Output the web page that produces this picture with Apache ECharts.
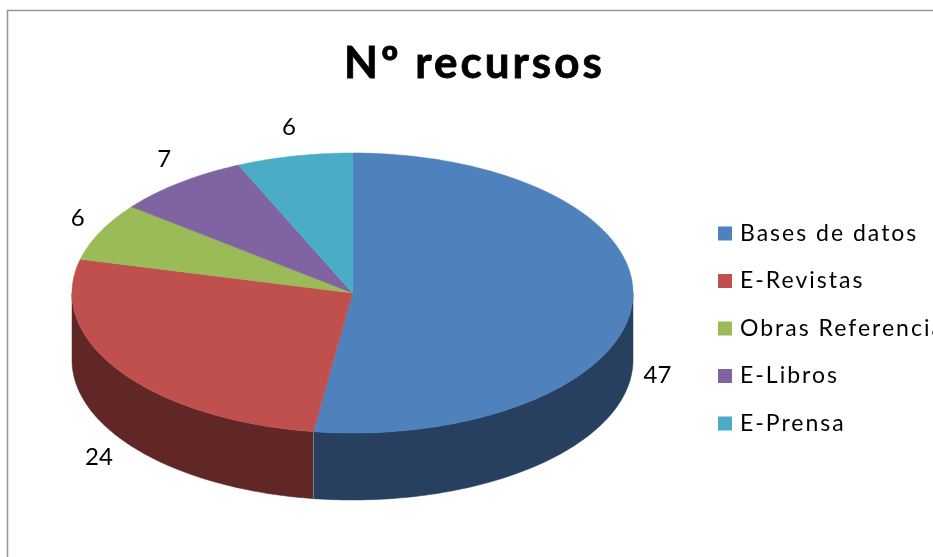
<!DOCTYPE html>
<html>
<head>
<meta charset="utf-8">
<style>html,body{margin:0;padding:0;background:#fff}#c{width:933px;height:557px}</style>
<script src="https://cdn.jsdelivr.net/npm/echarts@6/dist/echarts.min.js"></script>
</head>
<body>
<div id="c"></div>
<script>
const categories = ['Bases de datos', 'E-Revistas', 'Obras Referencia', 'E-Libros', 'E-Prensa'];
const values = [47, 24, 6, 7, 6];
const topColors = ['#4F81BD', '#C0504D', '#9BBB59', '#8064A2', '#4BACC6'];
const sideColors = ['#27405F', '#612726', '#4E5E2D', '#403251', '#265663'];
const chartTitle = 'Nº recursos';

// The reference text is set with wide tracking: apply it per font size on the canvas context.
const TRACKING = { '44px': '3px', '23px': '2px' };
const fontProp = Object.getOwnPropertyDescriptor(CanvasRenderingContext2D.prototype, 'font');
Object.defineProperty(CanvasRenderingContext2D.prototype, 'font', {
  get() { return fontProp.get.call(this); },
  set(v) {
    fontProp.set.call(this, v);
    const m = /(\d+px)/.exec(v);
    this.letterSpacing = (m && TRACKING[m[1]]) || '0px';
  }
});

const total = values.reduce((a, b) => a + b, 0);
const DEPTH = 67;
const rad = d => d * Math.PI / 180;
// clockwise from the top, on the unit circle mapped by the hidden axes to an ellipse
const unit = (deg, k = 1, ky = k) => [k * Math.sin(rad(deg)), ky * Math.cos(rad(deg))];

let acc = 0;
const spans = values.map(v => { const s = acc; acc += v; return [s / total * 360, acc / total * 360, v]; });

function renderSlice(params, api) {
  const a0 = api.value(0), a1 = api.value(1), v = api.value(2), i = params.seriesIndex;
  const pt = (deg, k, ky) => api.coord(unit(deg, k, ky));
  const children = [];
  const visA = Math.max(a0, 90), visB = Math.min(a1, 270);
  if (visB > visA) {
    const upper = [], lower = [];
    for (let d = visA; ; d += 1) {
      const dd = Math.min(d, visB);
      const p = pt(dd);
      upper.push(p); lower.unshift([p[0], p[1] + DEPTH]);
      if (dd >= visB) break;
    }
    children.push({ type: 'polygon', shape: { points: upper.concat(lower) },
      style: { fill: sideColors[i], stroke: sideColors[i], lineWidth: 0.5 } });
    if (a0 > 90 && a0 < 270) {
      const p = pt(a0);
      children.push({ type: 'line', shape: { x1: p[0], y1: p[1], x2: p[0], y2: p[1] + DEPTH },
        style: { stroke: '#6F8299', lineWidth: 1 }, z2: 2 });
    }
  }
  const c = api.coord([0, 0]);
  const top = [c];
  for (let d = a0; ; d += 1) {
    const dd = Math.min(d, a1);
    top.push(pt(dd));
    if (dd >= a1) break;
  }
  children.push({ type: 'polygon', shape: { points: top },
    style: { fill: topColors[i], stroke: topColors[i], lineWidth: 0.5 }, z2: 3 });
  const mid = (a0 + a1) / 2;
  const lp = pt(mid, 1.09, 1.21);
  const onFront = mid > 90 && mid < 270;
  children.push({ type: 'text', x: lp[0], y: lp[1] + (onFront ? DEPTH + 3 : 0), z2: 5,
    style: { text: String(v), fill: '#000', font: '24px "Lato"', align: 'center', verticalAlign: 'middle' } });
  return { type: 'group', children };
}

const chart = echarts.init(document.getElementById('c'), null, { renderer: 'canvas' });
chart.setOption({
  animation: false,
  backgroundColor: '#fff',
  title: { text: chartTitle, left: 344, top: 40, padding: 0,
    textStyle: { fontFamily: 'Lato', fontWeight: 'bold', fontSize: 44, color: '#000',
      textBorderColor: '#000', textBorderWidth: 0.8 } },
  grid: { left: 72, top: 153, width: 561, height: 280 },
  xAxis: { type: 'value', min: -1, max: 1, show: false },
  yAxis: { type: 'value', min: -1, max: 1, show: false },
  legend: {
    orient: 'vertical', left: 718, top: 221, padding: 0, itemWidth: 14, itemHeight: 14, itemGap: 22.5,
    icon: 'rect', data: categories,
    textStyle: { fontFamily: 'Lato', fontSize: 23, color: '#000', padding: [0, 0, 0, 3] }
  },
  graphic: [
    { type: 'polyline', silent: true, z: -1,
      shape: { points: [[7.5, 557], [7.5, 10.5], [933, 10.5]] },
      style: { fill: 'none', stroke: '#969696', lineWidth: 1.5 } }
  ],
  series: categories.map((name, i) => ({
    type: 'custom', name, coordinateSystem: 'cartesian2d', clip: false,
    itemStyle: { color: topColors[i] },
    encode: { x: 0, y: 1 },
    data: [spans[i]],
    renderItem: renderSlice
  }))
});
</script>
</body>
</html>
